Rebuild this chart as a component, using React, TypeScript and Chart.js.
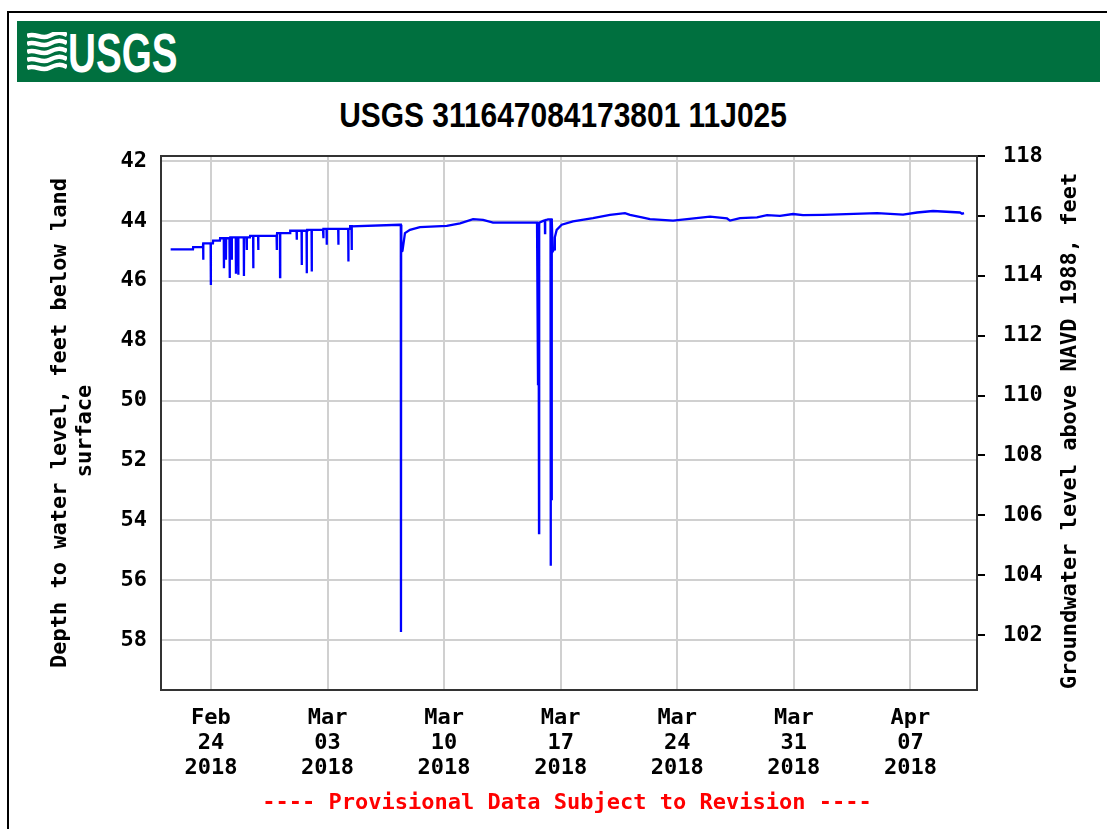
import React, { useEffect, useRef } from "react";
import { Chart, registerables } from "chart.js";

Chart.register(...registerables);

// ---- data (days since 2018-02-21 00:00, depth to water in feet) ----
const tickDays = [3, 10, 17, 24, 31, 38, 45];
const tickLabels = [
  ["Feb", "24", "2018"],
  ["Mar", "03", "2018"],
  ["Mar", "10", "2018"],
  ["Mar", "17", "2018"],
  ["Mar", "24", "2018"],
  ["Mar", "31", "2018"],
  ["Apr", "07", "2018"],
];
const depthTicks = [42, 44, 46, 48, 50, 52, 54, 56, 58];
const elevTicks = [102, 104, 106, 108, 110, 112, 114, 116, 118];

const baseDays = [
  0.58, 1.92, 1.93, 2.52, 2.53, 3.12, 3.13, 3.54, 3.55, 4.14, 4.15, 5.34, 5.35,
  6.96, 6.97, 7.75, 7.76, 8.77, 8.78, 9.73, 9.74, 11.35, 11.36, 14.35,
  14.43, 14.5, 14.65, 14.95, 15.55, 17.16, 17.96, 18.74, 19.34, 19.94, 22.58,
  22.95, 23.24, 23.35, 23.52, 23.6, 23.65, 23.76, 24.06, 24.74, 25.94, 26.96,
  27.86, 28.16, 28.88, 29.36, 30.75, 31.59, 32.97, 33.99, 34.17, 34.77, 35.79,
  36.39, 37.17, 37.95, 38.55, 39.75, 43.0, 44.56, 45.4, 46.36, 47.98, 48.1, 48.22,
];
const baseDepths = [
  44.95, 44.95, 44.88, 44.88, 44.75, 44.75, 44.66, 44.66, 44.58, 44.58, 44.55, 44.55, 44.5,
  44.5, 44.41, 44.41, 44.33, 44.33, 44.3, 44.3, 44.27, 44.27, 44.18, 44.13,
  45.03, 45.0, 44.41, 44.3, 44.21, 44.17, 44.08, 43.94, 43.97, 44.06, 44.06,
  44.0, 43.95, 43.95, 45.02, 44.95, 44.55, 44.3, 44.13, 44.02, 43.91, 43.8,
  43.74, 43.8, 43.88, 43.94, 43.99, 43.94, 43.86, 43.92, 43.99, 43.91, 43.88,
  43.81, 43.83, 43.77, 43.81, 43.8, 43.74, 43.79, 43.72, 43.67, 43.72, 43.76, 43.74,
];

const spikeDays = [
  2.54, 2.99, 3.78, 3.9, 4.12, 4.25, 4.5, 4.64, 4.98, 5.15, 5.54, 5.84, 6.95,
  7.15, 8.15, 8.45, 8.75, 9.05, 9.76, 9.95, 10.65, 11.25, 11.45,
  14.41, 22.64, 22.7, 23.06, 23.4, 23.46,
];
const spikeTops = [
  44.75, 44.75, 44.58, 44.58, 44.58, 44.55, 44.55, 44.55, 44.55, 44.55, 44.5, 44.5, 44.5,
  44.41, 44.33, 44.33, 44.33, 44.3, 44.27, 44.27, 44.27, 44.27, 44.18,
  44.13, 44.06, 44.06, 43.98, 43.95, 43.95,
];
const spikeBottoms = [
  45.3, 46.14, 45.58, 45.3, 45.91, 45.3, 45.77, 45.8, 45.84, 44.97, 45.58, 44.97, 44.97,
  45.88, 44.63, 45.47, 45.75, 45.69, 44.58, 44.8, 44.8, 45.36, 44.97,
  57.73, 49.45, 54.43, 44.41, 55.52, 53.33,
];

const LAND_SURFACE = 159.833;
const DEPTH_MIN = 41.833;
const DEPTH_MAX = 59.67;

const titleText = "USGS 311647084173801 11J025";
const leftTitle = ["Depth to water level, feet below land", "surface"];
const rightTitle = "Groundwater level above NAVD 1988, feet";
const footerText = "---- Provisional Data Subject to Revision ----";

const MONO = '"DejaVu Sans Mono", "Liberation Mono", monospace';
const GRID = "#d0d0d0";

function buildSeries() {
  const pts = baseDays.map((d, i) => ({ x: d, y: baseDepths[i] }));
  spikeDays.forEach((d, i) => {
    pts.push({ x: d - 0.01, y: spikeTops[i] }, { x: d, y: spikeBottoms[i] }, { x: d + 0.01, y: spikeTops[i] });
  });
  pts.sort((a, b) => a.x - b.x);
  return pts;
}

const framePlugin = {
  id: "frame",
  afterDraw(chart: any) {
    const { ctx, chartArea } = chart;
    ctx.save();
    ctx.strokeStyle = "#333";
    ctx.lineWidth = 2;
    ctx.strokeRect(chartArea.left, chartArea.top, chartArea.right - chartArea.left, chartArea.bottom - chartArea.top);
    ctx.font = `bold 22px ${MONO}`;
    ctx.fillStyle = "#000";
    ctx.textAlign = "center";
    ctx.textBaseline = "middle";
    const drawV = (t: string, x: number, y: number) => {
      ctx.save();
      ctx.translate(x, y);
      ctx.rotate(-Math.PI / 2);
      ctx.fillText(t, 0, 0);
      ctx.restore();
    };
    drawV(leftTitle[0], 60, 423);
    drawV(leftTitle[1], 85, 431);
    drawV(rightTitle, 1070, 431);
    ctx.restore();
  },
};

function UsgsWaves() {
  const paths = [
    "M0 4 C8 0 14 8 22 4 S34 0 40 3",
    "M0 12 C8 8 14 16 22 12 S34 8 40 11",
    "M0 20 C8 16 14 24 22 20 S34 16 40 19",
    "M0 28 C8 24 14 32 22 28 S34 24 40 27",
    "M0 36 C8 32 14 40 22 36 S34 32 40 35",
  ];
  return (
    <svg width={40} height={40} viewBox="0 0 40 40" style={{ position: "absolute", left: 27, top: 32 }}>
      {paths.map((p, i) => (
        <path key={i} d={p} stroke="#fff" strokeWidth={4.5} fill="none" />
      ))}
    </svg>
  );
}

export default function App() {
  const ref = useRef<HTMLCanvasElement | null>(null);

  useEffect(() => {
    if (!ref.current) return;
    const font = { family: MONO, size: 22, weight: "bold" as const, lineHeight: 1.14 };
    const chart = new Chart(ref.current, {
      type: "line",
      data: {
        datasets: [
          {
            data: buildSeries(),
            borderColor: "#0000ff",
            borderWidth: 2.3,
            pointRadius: 0,
            tension: 0,
            fill: false,
            yAxisID: "y",
            xAxisID: "x",
          },
        ],
      },
      options: {
        animation: false,
        responsive: false,
        maintainAspectRatio: false,
        devicePixelRatio: 1,
        events: [],
        layout: { padding: { left: 20, right: 60, top: 156, bottom: 39 } },
        plugins: { legend: { display: false }, tooltip: { enabled: false }, title: { display: false } },
        scales: {
          x: {
            type: "linear",
            min: 0,
            max: 49,
            afterBuildTicks: (s: any) => {
              s.ticks = tickDays.map((v) => ({ value: v }));
            },
            afterFit: (s: any) => {
              s.height = 100;
            },
            ticks: {
              autoSkip: false,
              maxRotation: 0,
              minRotation: 0,
              padding: 16,
              color: "#000",
              font,
              callback: (v: any) => tickLabels[tickDays.indexOf(Number(v))] as any,
            },
            grid: { color: GRID, lineWidth: 2, drawTicks: false },
            border: { display: false },
          },
          y: {
            type: "linear",
            position: "left",
            reverse: true,
            min: DEPTH_MIN,
            max: DEPTH_MAX,
            afterBuildTicks: (s: any) => {
              s.ticks = depthTicks.map((v) => ({ value: v }));
            },
            afterFit: (s: any) => {
              s.width = 141;
            },
            ticks: { padding: 14, color: "#000", font, callback: (v: any) => String(v) },
            grid: { color: GRID, lineWidth: 2, drawTicks: false },
            border: { display: false },
          },
          y2: {
            type: "linear",
            position: "right",
            min: LAND_SURFACE - DEPTH_MAX,
            max: LAND_SURFACE - DEPTH_MIN,
            afterBuildTicks: (s: any) => {
              s.ticks = elevTicks.map((v) => ({ value: v }));
            },
            afterFit: (s: any) => {
              s.width = 70;
            },
            ticks: { padding: 18, color: "#000", font, callback: (v: any) => String(v) },
            grid: { drawOnChartArea: false, drawTicks: true, tickLength: 8, color: "#000", lineWidth: 2 },
            border: { display: false },
          },
        },
      } as any,
      plugins: [framePlugin],
    });
    return () => chart.destroy();
  }, []);

  return (
    <div style={{ position: "absolute", left: 0, top: 0, width: 1107, height: 829, overflow: "hidden", background: "#fff" }}>
      <div
        style={{
          position: "absolute",
          left: 7,
          top: 11,
          width: 1130,
          height: 900,
          border: "2px solid #000",
          boxSizing: "border-box",
        }}
      />
      <div style={{ position: "absolute", left: 17, top: 21, width: 1083, height: 61, background: "#00703f" }} />
      <UsgsWaves />
      <div
        style={{
          position: "absolute",
          left: 68,
          top: 25,
          fontFamily: '"Liberation Sans", Arial, sans-serif',
          fontWeight: "bold",
          fontSize: 56,
          lineHeight: "56px",
          color: "#fff",
          transform: "scaleX(0.69)",
          transformOrigin: "left top",
          whiteSpace: "nowrap",
        }}
      >
        USGS
      </div>
      <div
        style={{
          position: "absolute",
          left: 163,
          top: 97,
          width: 800,
          textAlign: "center",
          fontFamily: '"Liberation Sans", Arial, sans-serif',
          fontWeight: "bold",
          fontSize: 35,
          lineHeight: "35px",
          color: "#000",
          transform: "scaleX(0.855)",
          transformOrigin: "center top",
          whiteSpace: "nowrap",
        }}
      >
        {titleText}
      </div>
      <canvas
        ref={ref}
        width={1107}
        height={829}
        style={{ position: "absolute", left: 0, top: 0, width: 1107, height: 829 }}
      />
      <div
        style={{
          position: "absolute",
          left: 167,
          top: 791,
          width: 800,
          textAlign: "center",
          fontFamily: MONO,
          fontWeight: "bold",
          fontSize: 22,
          lineHeight: "22px",
          color: "#ff0000",
          whiteSpace: "pre",
        }}
      >
        {footerText}
      </div>
    </div>
  );
}
